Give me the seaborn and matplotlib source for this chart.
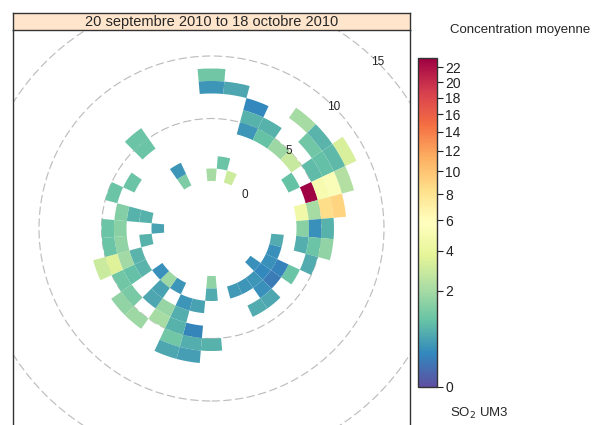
import numpy as np
import matplotlib
matplotlib.use("Agg")
import matplotlib.pyplot as plt
from matplotlib.patches import Wedge, Circle
from matplotlib.colors import PowerNorm
import matplotlib.cm as cm
import seaborn as sns

sns.set_style("white")
plt.rcParams['font.family'] = ['Liberation Sans', 'DejaVu Sans']

# ---- data: wind direction bin (deg), wind speed bin, mean concentration ----
directions = [0, 0, 10, 20, 20, 30, 20, 30, 40, 50,
              40, 50, 50, 60, 60, 60, 60, 60, 70, 70, 70, 70, 80, 80, 80, 80,
              90, 90, 90, 100, 100, 100, 110, 120,
              100, 110, 120, 120, 130, 130, 130, 140, 140, 150, 160, 140, 150,
              180, 180, 180, 190, 190, 190, 190, 200, 200, 200, 200, 200,
              210, 210, 210, 220, 220, 220, 220, 230, 230, 230,
              240, 240, 240, 250, 250, 250, 250, 260, 260, 260, 270, 270, 270,
              280, 280, 280, 290, 300, 320, 320, 330, 330, 0, 10, 20]
speed_bins = [8, 7, 7, 6, 5, 5, 4, 4, 4, 4,
              7, 7, 6, 8, 7, 6, 5, 3, 4, 5, 6, 7, 3, 4, 5, 6,
              3, 4, 5, 3, 4, 5, 4, 3,
              1, 1, 1, 2, 2, 1, 0, 2, 1, 1, 1, 3, 3,
              0, 1, 5, 4, 5, 6, 2, 2, 3, 4, 5, 6,
              1, 3, 4, 1, 2, 3, 5, 1, 4, 5,
              2, 3, 4, 2, 3, 4, 5, 1, 3, 4, 0, 3, 4,
              1, 2, 3, 4, 3, 4, 5, 0, 1, 0, 1, 0]
concentrations = [1.1, 0.35, 0.55, 0.25, 0.7, 0.7, 0.35, 0.95, 1.8, 2.8,
                  2.0, 0.75, 1.1, 3.3, 0.8, 0.9, 0.85, 0.95, 23.0, 5.0, 5.3, 2.3, 4.6, 2.0, 8.5, 9.0,
                  1.5, 0.3, 0.7, 0.65, 1.0, 1.6, 0.6, 1.0,
                  0.6, 0.3, 0.3, 0.2, 0.15, 0.25, 0.3, 0.3, 0.35, 0.35, 0.4, 0.55, 0.6,
                  1.6, 0.6, 0.7, 0.22, 0.65, 0.45, 0.5, 0.35, 0.65, 0.7, 1.1, 0.55,
                  0.35, 1.7, 2.0, 1.8, 0.5, 0.55, 1.8, 0.3, 1.2, 1.6,
                  0.75, 0.9, 1.1, 0.75, 1.9, 3.5, 2.9, 0.7, 1.6, 1.0, 0.5, 1.5, 1.0,
                  0.7, 0.7, 1.4, 1.0, 1.0, 1.0, 1.0, 1.3, 0.35, 2.0, 1.0, 3.0]

ring_labels = [0, 5, 10, 15]
cbar_ticks = [0, 2, 4, 6, 8, 10, 12, 14, 16, 18, 20, 22]
strip_title = "20 septembre 2010 to 18 octobre 2010"
key_header = "Concentration moyenne"
key_footer = "SO$_2$ UM3"

offset = 3.8      # hole in the middle (ws units)
ws_int = 1.0
half_width = 15.88

cmap = sns.color_palette("Spectral_r", as_cmap=True)
norm = PowerNorm(gamma=0.5, vmin=0, vmax=23.3)

W, H = 600, 425
fig = plt.figure(figsize=(6, 4.25), dpi=100)

# main panel
ax = fig.add_axes([13 / W, (H - 427) / H, 397 / W, 397 / H])
ax.set_xlim(-half_width, half_width)
ax.set_ylim(-half_width, half_width)
ax.set_aspect('equal', adjustable='box')
ax.set_xticks([])
ax.set_yticks([])
for sp in ax.spines.values():
    sp.set_color('#333333')
    sp.set_linewidth(1.0)
ax.spines['top'].set_visible(False)

# dashed grid circles
for lab in ring_labels[1:]:
    ax.add_patch(Circle((0, 0), offset + lab, fill=False, ec='#bdbdbd',
                        lw=0.85, ls=(0, (7, 3)), zorder=1))

# cells
for d, s, v in zip(directions, speed_bins, concentrations):
    ax.add_patch(Wedge((0, 0), offset + (s + 1) * ws_int, 90 - d - 5, 90 - d + 5,
                       width=ws_int, facecolor=cmap(norm(v)), edgecolor='none',
                       lw=0, zorder=2))

# ring labels along 45 degrees
for lab in ring_labels:
    r = offset + lab
    ax.text(r * np.sin(np.pi / 4), r * np.cos(np.pi / 4), str(lab),
            ha='center', va='center', fontsize=8.5, zorder=3)

# strip
sax = fig.add_axes([13 / W, (H - 30) / H, 397 / W, 17 / H])
sax.set_facecolor('#FFE5CC')
sax.set_xticks([])
sax.set_yticks([])
for sp in sax.spines.values():
    sp.set_color('#333333')
    sp.set_linewidth(1.0)
sax.text(0.5, 0.45, strip_title, ha='center', va='center', fontsize=10.5,
         transform=sax.transAxes)

# colour key
cax = fig.add_axes([418 / W, (H - 387) / H, 19 / W, 329 / H])
sm = cm.ScalarMappable(norm=norm, cmap=cmap)
cb = fig.colorbar(sm, cax=cax, ticks=cbar_ticks)
cb.outline.set_edgecolor('#333333')
cb.outline.set_linewidth(1.0)
cax.tick_params(axis='y', length=4, width=0.8, labelsize=10, pad=2,
                colors='#222222')

fig.text(450 / W, 1 - 30 / H, key_header, ha='left', va='center', fontsize=9.5)
fig.text(450 / W, 1 - 413 / H, key_footer, ha='left', va='center', fontsize=9.5)

fig.savefig("out.png", dpi=100)
